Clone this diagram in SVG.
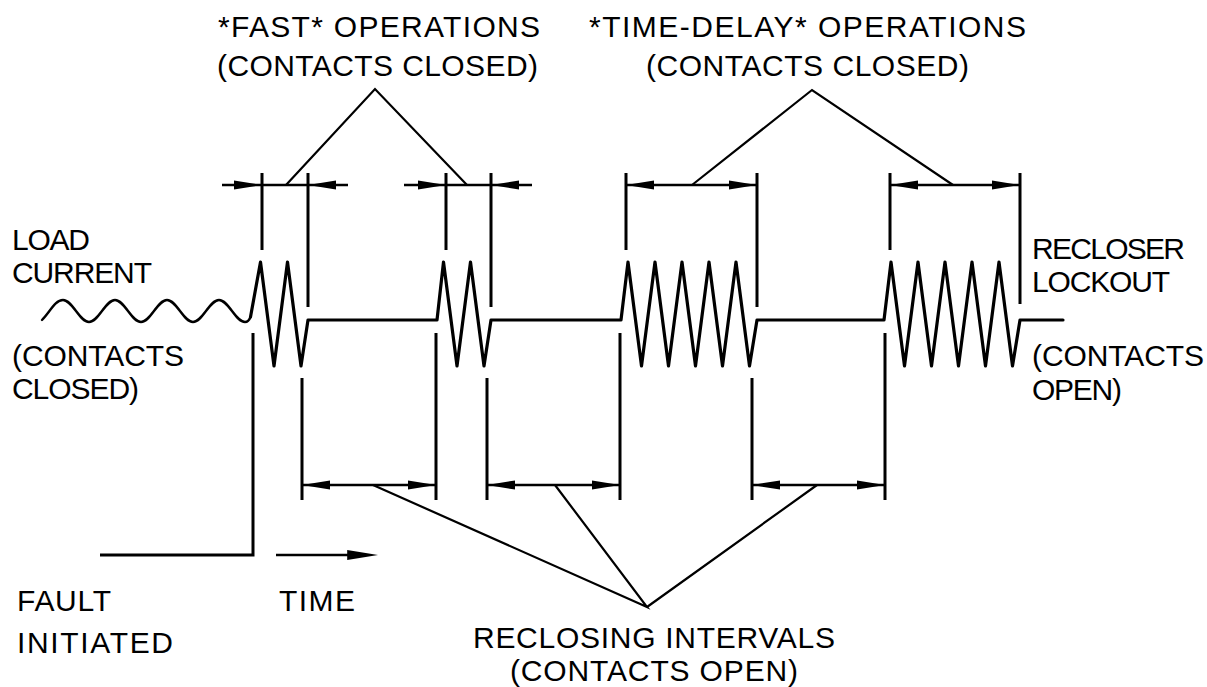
<svg xmlns="http://www.w3.org/2000/svg" xmlns:xlink="http://www.w3.org/1999/xlink" width="1207" height="687" viewBox="0 0 1207 687">
<style>
  text { font-family: "Liberation Sans", Arial, sans-serif; font-size: 30px; fill: #000; }
  .wave { fill: none; stroke: #000; stroke-width: 3.2; stroke-linejoin: round; stroke-linecap: round; }
  .sine { fill: none; stroke: #000; stroke-width: 2.4; stroke-linecap: round; }
  .tick { fill: none; stroke: #000; stroke-width: 3; }
  .dim { fill: none; stroke: #000; stroke-width: 2.6; }
  .lead { fill: none; stroke: #000; stroke-width: 2.2; stroke-linejoin: miter; }
  .ah { fill: #000; stroke: none; }
</style>
<defs>
  <path id="ah" d="M0,0 L-28,-4.6 L-28,4.6 Z"/>
</defs>
<rect width="1207" height="687" fill="#fff"/>

<g id="signal">
  <path class="sine" d="M42,320 C50,312 55,300 63,300 C72.5,300 79.5,322 89,322 S105.5,300 115,300 S131.5,322 141,322 S157.5,300 167,300 S183.5,322 193,322 S209.5,300 219,300 S235.5,322 245,322 C247.5,322 249,321 250.5,317"/>
  <path class="wave" d="M250.5,317 L260.5,262 L274,366 L287.5,262 L301,366 L308,320 L437,320 L443.5,262 L457,366 L470.5,262 L484,366 L491,320 L621,320 L628,262 L641.5,366 L655,262 L668.5,366 L682,262 L695.5,366 L709,262 L722.5,366 L736,262 L749.5,366 L757,320 L884,320 L891,262 L904.5,366 L918,262 L931.5,366 L945,262 L958.5,366 L972,262 L985.5,366 L999,262 L1012.5,366 L1020,320 L1063,320"/>
</g>

<g id="connectors">
  <!-- top ticks -->
  <path class="tick" d="M262,173 V250 M308,173 V307 M446,173 V250 M491,173 V307 M626,173 V250 M757,173 V307 M890,173 V250 M1020,173 V304"/>
  <!-- bottom ticks -->
  <path class="tick" d="M302,378 V500 M436,333 V500 M487,378 V500 M620,333 V500 M752,378 V500 M885,333 V500"/>
  <!-- fault line -->
  <path class="tick" d="M253,333 V555 H100"/>
  <!-- fast dimension lines -->
  <path class="dim" d="M222,185 H348 M404,185 H532"/>
  <use href="#ah" class="ah" transform="translate(262,185)"/>
  <use href="#ah" class="ah" transform="translate(308,185) rotate(180)"/>
  <use href="#ah" class="ah" transform="translate(446,185)"/>
  <use href="#ah" class="ah" transform="translate(491,185) rotate(180)"/>
  <!-- time-delay dimension lines -->
  <path class="dim" d="M626,185 H757 M890,185 H1020"/>
  <use href="#ah" class="ah" transform="translate(626,185) rotate(180)"/>
  <use href="#ah" class="ah" transform="translate(757,185)"/>
  <use href="#ah" class="ah" transform="translate(890,185) rotate(180)"/>
  <use href="#ah" class="ah" transform="translate(1020,185)"/>
  <!-- reclosing interval dimension lines -->
  <path class="dim" d="M302,485 H436 M487,485 H620 M752,485 H885"/>
  <use href="#ah" class="ah" transform="translate(302,485) rotate(180)"/>
  <use href="#ah" class="ah" transform="translate(436,485)"/>
  <use href="#ah" class="ah" transform="translate(487,485) rotate(180)"/>
  <use href="#ah" class="ah" transform="translate(620,485)"/>
  <use href="#ah" class="ah" transform="translate(752,485) rotate(180)"/>
  <use href="#ah" class="ah" transform="translate(885,485)"/>
  <!-- time arrow -->
  <path class="dim" d="M276,555 H360"/>
  <use href="#ah" class="ah" transform="translate(378,555) scale(1.1,1.1)"/>
  <!-- leaders -->
  <path class="lead" d="M286,185 L375,89 L467,185"/>
  <path class="lead" d="M692,185 L812,90 L953,185"/>
  <path class="lead" d="M373,485 L647,607 L555,485 M647,607 L817,485"/>
</g>

<g id="label-fast">
  <text x="218" y="37" textLength="322" lengthAdjust="spacing">*FAST* OPERATIONS</text>
  <text x="217" y="76" textLength="321" lengthAdjust="spacing">(CONTACTS CLOSED)</text>
</g>
<g id="label-timedelay">
  <text x="589" y="37" textLength="437" lengthAdjust="spacing">*TIME-DELAY* OPERATIONS</text>
  <text x="646" y="76" textLength="323" lengthAdjust="spacing">(CONTACTS CLOSED)</text>
</g>
<g id="label-load">
  <text x="12" y="250" textLength="78" lengthAdjust="spacing">LOAD</text>
  <text x="12" y="283" textLength="140" lengthAdjust="spacing">CURRENT</text>
  <text x="12" y="366" textLength="172" lengthAdjust="spacing">(CONTACTS</text>
  <text x="12" y="399" textLength="127" lengthAdjust="spacing">CLOSED)</text>
</g>
<g id="label-lockout">
  <text x="1032" y="259" textLength="153" lengthAdjust="spacing">RECLOSER</text>
  <text x="1032" y="292" textLength="138" lengthAdjust="spacing">LOCKOUT</text>
  <text x="1032" y="366" textLength="172" lengthAdjust="spacing">(CONTACTS</text>
  <text x="1032" y="400" textLength="90" lengthAdjust="spacing">OPEN)</text>
</g>
<g id="label-fault">
  <text x="17" y="611" textLength="94" lengthAdjust="spacing">FAULT</text>
  <text x="17" y="653" textLength="156" lengthAdjust="spacing">INITIATED</text>
</g>
<g id="label-time">
  <text x="279" y="611" textLength="76" lengthAdjust="spacing">TIME</text>
</g>
<g id="label-reclosing">
  <text x="473" y="648" textLength="362" lengthAdjust="spacing">RECLOSING INTERVALS</text>
  <text x="510" y="681" textLength="288" lengthAdjust="spacing">(CONTACTS OPEN)</text>
</g>
</svg>
